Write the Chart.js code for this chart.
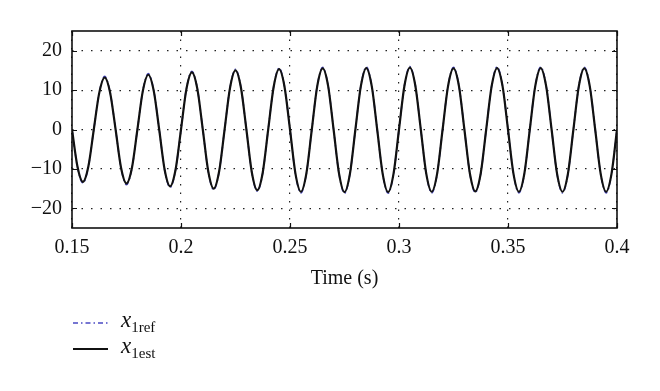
<!DOCTYPE html>
<html>
<head>
<meta charset="utf-8">
<script src="https://cdn.jsdelivr.net/npm/chart.js@4.4.0/dist/chart.umd.min.js"></script>
<style>
  html, body { margin:0; padding:0; background:#fff; }
  #wrap { position:relative; width:660px; height:391px; }
  canvas { position:absolute; left:0; top:0; }
  .lg { position:absolute; font-family:'Liberation Serif', serif; font-style:italic; font-size:23px; line-height:1; color:#111; white-space:nowrap; }
  .lg span { font-style:normal; font-size:15px; position:relative; top:5px; }
</style>
</head>
<body>
<div id="wrap">
  <canvas id="c" width="660" height="391"></canvas>
  <svg style="position:absolute;left:73px;top:318px" width="36" height="10"><line x1="0" y1="5" x2="35" y2="5" stroke="#4a4ac4" stroke-width="1.5" stroke-dasharray="5 3 1.5 3"/></svg>
  <div class="lg" style="left:121px;top:308px">x<span>1ref</span></div>
  <svg style="position:absolute;left:73px;top:344px" width="36" height="10"><line x1="0" y1="5" x2="35" y2="5" stroke="#111" stroke-width="2"/></svg>
  <div class="lg" style="left:121px;top:334px">x<span>1est</span></div>
</div>
<script>
// Time samples (s)
const time = [
  0.15,0.1525,0.155,0.1575,0.16,0.1625,0.165,0.1675,0.17,0.1725,
  0.175,0.1775,0.18,0.1825,0.185,0.1875,0.19,0.1925,0.195,0.1975,
  0.2,0.2025,0.205,0.2075,0.21,0.2125,0.215,0.2175,0.22,0.2225,
  0.225,0.2275,0.23,0.2325,0.235,0.2375,0.24,0.2425,0.245,0.2475,
  0.25,0.2525,0.255,0.2575,0.26,0.2625,0.265,0.2675,0.27,0.2725,
  0.275,0.2775,0.28,0.2825,0.285,0.2875,0.29,0.2925,0.295,0.2975,
  0.3,0.3025,0.305,0.3075,0.31,0.3125,0.315,0.3175,0.32,0.3225,
  0.325,0.3275,0.33,0.3325,0.335,0.3375,0.34,0.3425,0.345,0.3475,
  0.35,0.3525,0.355,0.3575,0.36,0.3625,0.365,0.3675,0.37,0.3725,
  0.375,0.3775,0.38,0.3825,0.385,0.3875,0.39,0.3925,0.395,0.3975,
  0.4
];
// Estimated signal x1est
const x1est = [
  0,-9.4,-13.3,-9.4,0,9.3,13.2,9.3,0,-9.7,
  -13.7,-9.7,0,9.8,13.9,9.8,0,-10.2,-14.4,-10.2,
  0,10.3,14.5,10.3,0,-10.6,-15.0,-10.6,0,10.6,
  15.0,10.6,0,-10.9,-15.4,-10.9,0,10.8,15.3,10.8,
  0,-11.2,-15.8,-11.2,0,11.0,15.5,11.0,0,-11.2,
  -15.9,-11.2,0,11.0,15.6,11.0,0,-11.2,-15.9,-11.2,
  0,11.1,15.7,11.1,0,-11.2,-15.8,-11.2,0,11.0,
  15.5,11.0,0,-11.1,-15.7,-11.1,0,11.0,15.6,11.0,
  0,-11.2,-15.8,-11.2,0,11.0,15.6,11.0,0,-11.2,
  -15.8,-11.2,0,11.0,15.5,11.0,0,-11.2,-15.8,-11.2,
  0
];
// Reference signal x1ref
const x1ref = [
  0,-9.5,-13.6,-9.5,0,9.4,13.5,9.4,0,-9.8,
  -14.0,-9.8,0,9.9,14.2,9.9,0,-10.3,-14.7,-10.3,
  0,10.4,14.8,10.4,0,-10.7,-15.3,-10.7,0,10.7,
  15.3,10.7,0,-11.0,-15.7,-11.0,0,10.9,15.6,10.9,
  0,-11.3,-16.1,-11.3,0,11.1,15.8,11.1,0,-11.3,
  -16.2,-11.3,0,11.1,15.9,11.1,0,-11.3,-16.2,-11.3,
  0,11.2,16.0,11.2,0,-11.3,-16.1,-11.3,0,11.1,
  15.8,11.1,0,-11.2,-16.0,-11.2,0,11.1,15.9,11.1,
  0,-11.3,-16.1,-11.3,0,11.1,15.9,11.1,0,-11.3,
  -16.1,-11.3,0,11.1,15.8,11.1,0,-11.3,-16.1,-11.3,
  0
];
const xTicks = [0.15, 0.2, 0.25, 0.3, 0.35, 0.4];
const xTickLabels = ['0.15', '0.2', '0.25', '0.3', '0.35', '0.4'];
const yTicks = [-20, -10, 0, 10, 20];
const yTickLabels = ['\u221220', '\u221210', '0', '10', '20'];

const pts = arr => time.map((t, i) => ({x: t, y: arr[i]}));

const frame = {
  id: 'frame',
  afterDatasetsDraw(chart) {
    const {ctx, chartArea: a, scales: {x, y}} = chart;
    ctx.save();
    ctx.strokeStyle = '#111';
    ctx.lineWidth = 1.2;
    ctx.beginPath();
    yTicks.forEach(v => {
      const py = Math.round(y.getPixelForValue(v)) + 0.5;
      ctx.moveTo(a.left, py); ctx.lineTo(a.left + 5, py);
      ctx.moveTo(a.right, py); ctx.lineTo(a.right - 5, py);
    });
    xTicks.forEach(v => {
      const px = Math.round(x.getPixelForValue(v)) + 0.5;
      ctx.moveTo(px, a.bottom); ctx.lineTo(px, a.bottom - 5);
      ctx.moveTo(px, a.top); ctx.lineTo(px, a.top + 5);
    });
    ctx.stroke();
    ctx.lineWidth = 1.6;
    ctx.strokeRect(a.left, a.top, a.right - a.left, a.bottom - a.top);
    ctx.restore();
  }
};

const font = {family: "'Liberation Serif', serif", size: 20};
new Chart(document.getElementById('c'), {
  type: 'line',
  data: {
    datasets: [
      { label: 'x1est', data: pts(x1est), borderColor: '#111', borderWidth: 2.2,
        pointRadius: 0, fill: false, cubicInterpolationMode: 'monotone' },
      { label: 'x1ref', data: pts(x1ref), borderColor: '#4a4ac4', borderWidth: 1.5,
        borderDash: [5, 3, 1.5, 3], pointRadius: 0, fill: false, cubicInterpolationMode: 'monotone' }
    ]
  },
  options: {
    responsive: false,
    animation: false,
    layout: { padding: { left: 0, right: 43, top: 31, bottom: 91 } },
    plugins: { legend: { display: false }, tooltip: { enabled: false } },
    scales: {
      x: {
        type: 'linear', min: 0.15, max: 0.4,
        afterBuildTicks: s => { s.ticks = xTicks.map(v => ({value: v})); },
        afterFit: s => { s.height = 72; },
        ticks: { color: '#111', font: font, padding: 8, maxRotation: 0,
                 callback: (v, i) => xTickLabels[i] },
        grid: { color: '#222', lineWidth: 1.2, drawTicks: false },
        border: { display: false, dash: [1.5, 7] },
        title: { display: true, text: 'Time (s)', color: '#111',
                 font: {family: "'Liberation Serif', serif", size: 20},
                 padding: {top: 0, bottom: 9} }
      },
      y: {
        type: 'linear', min: -25, max: 25,
        afterBuildTicks: s => { s.ticks = yTicks.map(v => ({value: v})); },
        afterFit: s => { s.width = 72; },
        ticks: { color: '#111', font: font, padding: 10,
                 callback: (v, i) => yTickLabels[i] },
        grid: { color: '#222', lineWidth: 1.2, drawTicks: false },
        border: { display: false, dash: [1.5, 8] }
      }
    }
  },
  plugins: [frame]
});
</script>
</body>
</html>
